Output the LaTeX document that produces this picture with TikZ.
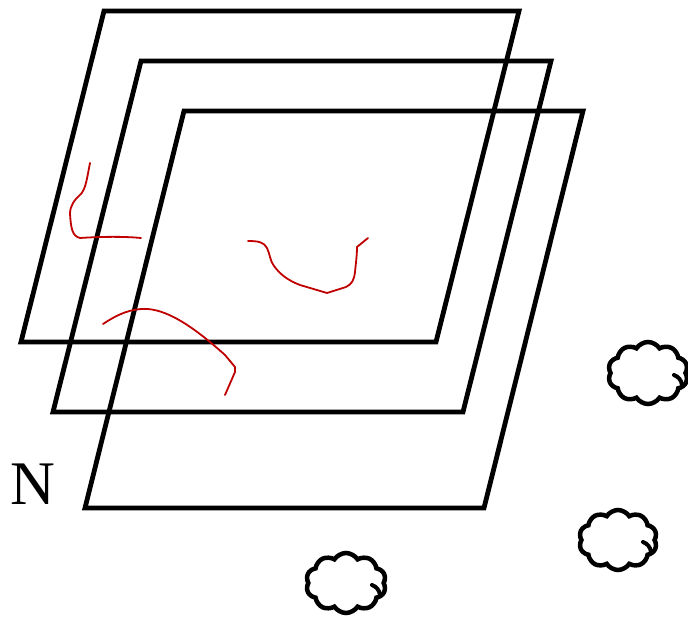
\documentclass[tikz,border=0pt]{standalone}
\usepackage{fontspec}
\setmainfont{Liberation Serif}
\usetikzlibrary{shapes.symbols}
\definecolor{redline}{HTML}{C00000}
\tikzset{
  plane/.style={draw=black, line width=4.8pt, line join=miter},
  sketch/.style={draw=redline, line width=1.8pt, line cap=round, line join=round},
  puff/.style={cloud, cloud puffs=10, cloud puff arc=115, aspect=1.35, draw=black, line width=4.5pt, fill=white, inner sep=0pt},
  curl/.style={draw=black, line width=4pt, line cap=round}
}
\begin{document}
\begin{tikzpicture}[x=1pt,y=-1pt]
\useasboundingbox (0,0) rectangle (688,617);
% planes
\draw[plane] (104,11) -- (519,11) -- (436,342) -- (21,342) -- cycle;
\draw[plane] (141,61) -- (551,61) -- (463,412) -- (53,412) -- cycle;
\draw[plane] (184,111) -- (583,111) -- (484,508) -- (85,508) -- cycle;
% red sketches
\draw[sketch] (90,163) .. controls (87,178) and (86,188) .. (81,194)
  .. controls (74,200) and (70,206) .. (70,214)
  .. controls (71,228) and (72,236) .. (80,238)
  .. controls (95,237) and (120,236) .. (141,238);
\draw[sketch] (248,241) .. controls (258,241) and (264,242) .. (267,248)
  .. controls (270,254) and (270,261) .. (274,266)
  .. controls (280,274) and (287,280) .. (300,285)
  -- (327,293) -- (346,287)
  .. controls (352,284) and (354,280) .. (355,272)
  .. controls (356,262) and (357,255) .. (357,247) -- (368,238);
\draw[sketch] (103,324) .. controls (118,314) and (132,308) .. (148,309)
  .. controls (170,311) and (195,328) .. (225,355)
  -- (235,367) -- (235,372) -- (225,395);
% clouds
\node[puff, minimum width=80pt, minimum height=62pt] (c1) at (648,373) {};
\node[puff, minimum width=78pt, minimum height=60pt] (c2) at (618,540) {};
\node[puff, minimum width=80pt, minimum height=60pt] (c3) at (346,583) {};
\draw[curl] ([shift={(34,12)}]c1.center) to[bend right=30] ([shift={(26,2)}]c1.center);
\draw[curl] ([shift={(33,12)}]c2.center) to[bend right=30] ([shift={(25,2)}]c2.center);
\draw[curl] ([shift={(34,12)}]c3.center) to[bend right=30] ([shift={(26,2)}]c3.center);
% label
\node[inner sep=0pt, font=\fontsize{62}{62}\selectfont] (n) at (33,484) {N};
\end{tikzpicture}
\end{document}
